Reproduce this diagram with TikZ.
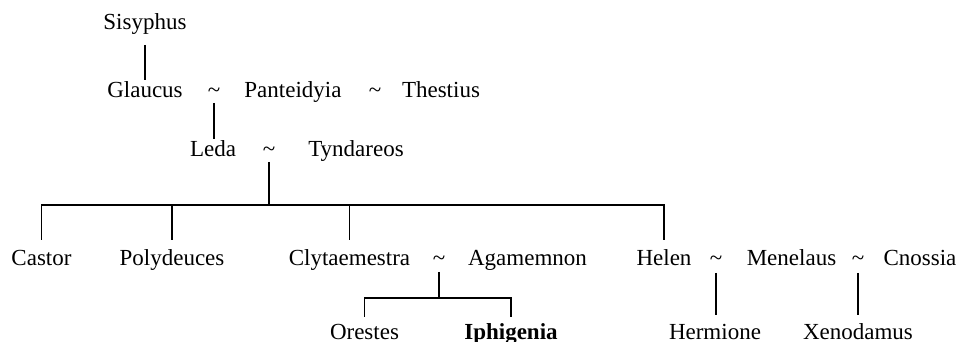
\documentclass[tikz,border=0pt]{standalone}
\usepackage{fontspec}
\setmainfont{Liberation Serif}
\usepackage{tikz}
\usetikzlibrary{calc}

\begin{document}
\begin{tikzpicture}[
  x=0.5pt, y=-0.5pt,
  person/.style={anchor=base, inner sep=0pt, outer sep=0pt,
                 text height=9pt, text depth=2.5pt,
                 font=\fontsize{11.5pt}{13pt}\selectfont},
  wed/.style={person},
  link/.style={line width=0.75pt, color=black}
]
  \useasboundingbox (0,0) rectangle (960,342);

  \node[person] (sisyphus)   at (145,30)  {Sisyphus};

  \node[person] (glaucus)    at (145,98)  {Glaucus};
  \node[wed]    (gp)         at (214,98)  {\textasciitilde};
  \node[person] (panteidyia) at (293,98)  {Panteidyia};
  \node[wed]    (pt)         at (375,98)  {\textasciitilde};
  \node[person] (thestius)   at (441,98)  {Thestius};

  \node[person] (leda)       at (213,157) {Leda};
  \node[wed]    (lt)         at (269,157) {\textasciitilde};
  \node[person] (tyndareos)  at (356,157) {Tyndareos};

  \node[person] (castor)     at (41.5,265)  {Castor};
  \node[person] (polydeuces) at (172,265)   {Polydeuces};
  \node[person] (clyt)       at (349.5,265) {Clytaemestra};
  \node[wed]    (ca)         at (439,265)   {\textasciitilde};
  \node[person] (agamemnon)  at (527.5,265) {Agamemnon};
  \node[person] (helen)      at (664,265)   {Helen};
  \node[wed]    (hm)         at (716,265)   {\textasciitilde};
  \node[person] (menelaus)   at (791.5,265) {Menelaus};
  \node[wed]    (mc)         at (858,265)   {\textasciitilde};
  \node[person] (cnossia)    at (920,265)   {Cnossia};

  \node[person] (orestes)    at (364.5,339) {Orestes};
  \node[person] (iphigenia)  at (511,339)   {\textbf{Iphigenia}};
  \node[person] (hermione)   at (715,339)   {Hermione};
  \node[person] (xenodamus)  at (858,339)   {Xenodamus};

  \coordinate (tkids) at (269,205);
  \coordinate (akids) at (439,298);

  \draw[link, shorten <=5pt] (sisyphus.south) -- (glaucus.north);
  \draw[link] (gp.south) -- (gp.south |- leda.north);

  \draw[link] (lt.south) -- (tkids);
  \draw[link, shorten <=3.5pt] (castor.north)     |- (tkids);
  \draw[link, shorten <=3.5pt] (polydeuces.north) |- (tkids);
  \draw[link, shorten <=3.5pt] (clyt.north)       |- (tkids);
  \draw[link, shorten <=3.5pt] (helen.north)      |- (tkids);

  \draw[link, shorten <=1pt] (ca.south) -- (akids);
  \draw[link, shorten <=2pt] (orestes.north)   |- (akids);
  \draw[link, shorten <=2pt] (iphigenia.north) |- (akids);

  \draw[link, shorten <=1.5pt, shorten >=3pt] (hm.south) -- (hm.south |- hermione.north);
  \draw[link, shorten <=1.5pt, shorten >=3pt] (mc.south) -- (xenodamus.north);
\end{tikzpicture}
\end{document}
